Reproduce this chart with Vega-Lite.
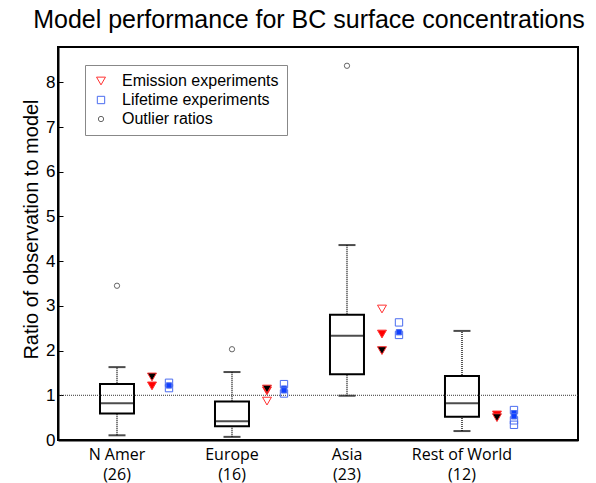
{
  "$schema": "https://vega.github.io/schema/vega-lite/v6.json",
  "width": 520,
  "height": 393,
  "autosize": {"type": "none"},
  "padding": {"left": 58, "top": 47, "right": 18, "bottom": 43},
  "background": "white",
  "title": {"text": "Model performance for BC surface concentrations", "fontSize": 25, "font": "Liberation Sans", "fontWeight": "normal", "offset": 14, "dx": -9, "color": "black"},
  "config": {
    "view": {"stroke": "black", "strokeWidth": 2},
    "axis": {"domainColor": "black", "domainWidth": 2, "labelColor": "black", "titleColor": "black", "grid": false}
  },
  "datasets": {
    "boxes": [
      {"region": "N Amer", "lo": 0.105, "q1": 0.59, "med": 0.82, "q3": 1.25, "hi": 1.63},
      {"region": "Europe", "lo": 0.07, "q1": 0.31, "med": 0.42, "q3": 0.86, "hi": 1.52},
      {"region": "Asia", "lo": 0.99, "q1": 1.47, "med": 2.33, "q3": 2.8, "hi": 4.36},
      {"region": "Rest of World", "lo": 0.2, "q1": 0.52, "med": 0.82, "q3": 1.43, "hi": 2.44}
    ],
    "markers": [
      {"region": "N Amer", "ratio": 1.21, "type": "Emission experiments", "variant": "red"},
      {"region": "N Amer", "ratio": 1.41, "type": "Emission experiments", "variant": "black"},
      {"region": "N Amer", "ratio": 1.28, "type": "Lifetime experiments", "variant": "open"},
      {"region": "N Amer", "ratio": 1.16, "type": "Lifetime experiments", "variant": "open"},
      {"region": "N Amer", "ratio": 1.22, "type": "Lifetime experiments", "variant": "blue"},
      {"region": "Europe", "ratio": 0.87, "type": "Emission experiments", "variant": "open"},
      {"region": "Europe", "ratio": 1.1, "type": "Emission experiments", "variant": "red"},
      {"region": "Europe", "ratio": 1.14, "type": "Emission experiments", "variant": "black"},
      {"region": "Europe", "ratio": 1.25, "type": "Lifetime experiments", "variant": "open"},
      {"region": "Europe", "ratio": 1.04, "type": "Lifetime experiments", "variant": "open"},
      {"region": "Europe", "ratio": 1.15, "type": "Lifetime experiments", "variant": "blue"},
      {"region": "Europe", "ratio": 1.11, "type": "Lifetime experiments", "variant": "blue"},
      {"region": "Asia", "ratio": 2.93, "type": "Emission experiments", "variant": "open"},
      {"region": "Asia", "ratio": 2.37, "type": "Emission experiments", "variant": "red"},
      {"region": "Asia", "ratio": 2.0, "type": "Emission experiments", "variant": "black"},
      {"region": "Asia", "ratio": 2.63, "type": "Lifetime experiments", "variant": "open"},
      {"region": "Asia", "ratio": 2.35, "type": "Lifetime experiments", "variant": "open"},
      {"region": "Asia", "ratio": 2.41, "type": "Lifetime experiments", "variant": "blue"},
      {"region": "Rest of World", "ratio": 0.56, "type": "Emission experiments", "variant": "red"},
      {"region": "Rest of World", "ratio": 0.5, "type": "Emission experiments", "variant": "black"},
      {"region": "Rest of World", "ratio": 0.67, "type": "Lifetime experiments", "variant": "open"},
      {"region": "Rest of World", "ratio": 0.44, "type": "Lifetime experiments", "variant": "open"},
      {"region": "Rest of World", "ratio": 0.34, "type": "Lifetime experiments", "variant": "open"},
      {"region": "Rest of World", "ratio": 0.6, "type": "Lifetime experiments", "variant": "blue"},
      {"region": "Rest of World", "ratio": 0.53, "type": "Lifetime experiments", "variant": "blue"}
    ],
    "outliers": [
      {"region": "N Amer", "ratio": 3.45, "type": "Outlier ratios"},
      {"region": "Europe", "ratio": 2.03, "type": "Outlier ratios"},
      {"region": "Asia", "ratio": 8.37, "type": "Outlier ratios"}
    ]
  },
  "layer": [
    {
      "data": {"name": "boxes"},
      "mark": {"type": "rule", "strokeDash": [1, 1], "strokeWidth": 2, "color": "#555"},
      "encoding": {
        "x": {
          "field": "region", "type": "nominal", "sort": null,
          "scale": {"domain": ["N Amer", "Europe", "Asia", "Rest of World"], "paddingInner": 0, "paddingOuter": 0.261, "align": 0.025},
          "axis": {
            "title": null, "ticks": false, "labelAngle": 0, "labelPadding": 6, "labelFontSize": 16, "labelFont": "Open Sans", "labelLineHeight": 20,
            "labelExpr": "[datum.label, datum.label == 'N Amer' ? '(26)' : datum.label == 'Europe' ? '(16)' : datum.label == 'Asia' ? '(23)' : '(12)']"
          }
        },
        "y": {
          "field": "lo", "type": "quantitative",
          "scale": {"domain": [0, 8.79], "nice": false, "zero": false},
          "axis": {"title": "Ratio of observation to model", "values": [0, 1, 2, 3, 4, 5, 6, 7, 8], "tickSize": -5, "tickColor": "black", "labelPadding": 8, "labelFontSize": 17, "labelFont": "Liberation Sans", "titleFontSize": 20, "titleFont": "Liberation Sans", "titleFontWeight": "normal", "titlePadding": 4, "titleY": 182}
        },
        "y2": {"field": "hi"}
      }
    },
    {
      "data": {"name": "boxes"},
      "mark": {"type": "bar", "width": 34, "fill": "white", "stroke": "black", "strokeWidth": 2},
      "encoding": {
        "x": {"field": "region", "type": "nominal", "sort": null},
        "y": {"field": "q1", "type": "quantitative"},
        "y2": {"field": "q3"}
      }
    },
    {
      "data": {"name": "boxes"},
      "mark": {"type": "tick", "orient": "horizontal", "size": 34, "thickness": 2, "color": "black"},
      "encoding": {
        "x": {"field": "region", "type": "nominal", "sort": null},
        "y": {"field": "med", "type": "quantitative"}
      }
    },
    {
      "data": {"name": "boxes"},
      "mark": {"type": "tick", "orient": "horizontal", "size": 17, "thickness": 2, "color": "black"},
      "encoding": {
        "x": {"field": "region", "type": "nominal", "sort": null},
        "y": {"field": "lo", "type": "quantitative"}
      }
    },
    {
      "data": {"name": "boxes"},
      "mark": {"type": "tick", "orient": "horizontal", "size": 17, "thickness": 2, "color": "black"},
      "encoding": {
        "x": {"field": "region", "type": "nominal", "sort": null},
        "y": {"field": "hi", "type": "quantitative"}
      }
    },
    {
      "data": {"values": [{}]},
      "mark": {"type": "rule", "strokeDash": [1, 1], "strokeWidth": 1, "color": "#333"},
      "encoding": {"y": {"datum": 1}}
    },
    {
      "data": {"name": "markers"},
      "transform": [{"filter": "datum.variant == 'open'"}],
      "mark": {"type": "point", "filled": false, "strokeWidth": 1, "opacity": 1},
      "encoding": {
        "x": {"field": "region", "type": "nominal", "sort": null},
        "xOffset": {"field": "type", "type": "nominal", "scale": {"type": "point", "domain": ["Emission experiments", "Lifetime experiments"], "range": [92.5, 109.5], "padding": 0}},
        "y": {"field": "ratio", "type": "quantitative"},
        "shape": {"field": "type", "type": "nominal", "scale": {"domain": ["Emission experiments", "Lifetime experiments", "Outlier ratios"], "range": ["triangle-down", "square", "circle"]},
          "legend": {"orient": "none", "legendX": 27, "legendY": 18, "title": null, "strokeColor": "#888", "padding": 8, "labelFontSize": 16, "labelFont": "Liberation Sans", "labelColor": "black", "labelOffset": 13, "rowPadding": 3, "symbolStrokeWidth": 1, "symbolFillColor": "transparent",
            "labelExpr": "datum.label + '\u00a0\u00a0\u00a0\u00a0\u00a0\u00a0\u00a0\u00a0\u00a0\u00a0\u00a0\u00a0'"}},
        "stroke": {"field": "type", "type": "nominal", "scale": {"domain": ["Emission experiments", "Lifetime experiments", "Outlier ratios"], "range": ["#ff3030", "#4a6cf0", "#666666"]}},
        "size": {"field": "type", "type": "nominal", "scale": {"domain": ["Emission experiments", "Lifetime experiments", "Outlier ratios"], "range": [80, 28, 65]}}
      }
    },
    {
      "data": {"name": "outliers"},
      "mark": {"type": "point", "filled": false, "strokeWidth": 1, "opacity": 1},
      "encoding": {
        "x": {"field": "region", "type": "nominal", "sort": null},
        "y": {"field": "ratio", "type": "quantitative"},
        "shape": {"field": "type", "type": "nominal",
          "legend": {"orient": "none", "legendX": 27, "legendY": 18, "title": null, "strokeColor": "#888", "padding": 8, "labelFontSize": 16, "labelFont": "Liberation Sans", "labelColor": "black", "labelOffset": 13, "rowPadding": 3, "symbolStrokeWidth": 1, "symbolFillColor": "transparent",
            "labelExpr": "datum.label + '\u00a0\u00a0\u00a0\u00a0\u00a0\u00a0\u00a0\u00a0\u00a0\u00a0\u00a0\u00a0'"}},
        "stroke": {"field": "type", "type": "nominal"},
        "size": {"field": "type", "type": "nominal"}
      }
    },
    {
      "data": {"name": "markers"},
      "transform": [{"filter": "datum.variant == 'red'"}],
      "mark": {"type": "point", "shape": "triangle-down", "filled": true, "fill": "#ff0000", "stroke": "#ff3030", "strokeWidth": 1, "size": 80, "opacity": 1},
      "encoding": {
        "x": {"field": "region", "type": "nominal", "sort": null},
        "xOffset": {"field": "type", "type": "nominal"},
        "y": {"field": "ratio", "type": "quantitative"}
      }
    },
    {
      "data": {"name": "markers"},
      "transform": [{"filter": "datum.variant == 'black'"}],
      "mark": {"type": "point", "shape": "triangle-down", "filled": true, "fill": "#000000", "stroke": "#ff3030", "strokeWidth": 1, "size": 80, "opacity": 1},
      "encoding": {
        "x": {"field": "region", "type": "nominal", "sort": null},
        "xOffset": {"field": "type", "type": "nominal"},
        "y": {"field": "ratio", "type": "quantitative"}
      }
    },
    {
      "data": {"name": "markers"},
      "transform": [{"filter": "datum.variant == 'blue'"}],
      "mark": {"type": "square", "filled": true, "fill": "#1040ff", "stroke": "#4a6cf0", "strokeWidth": 1, "size": 28, "opacity": 1},
      "encoding": {
        "x": {"field": "region", "type": "nominal", "sort": null},
        "xOffset": {"field": "type", "type": "nominal"},
        "y": {"field": "ratio", "type": "quantitative"}
      }
    }
  ]
}
